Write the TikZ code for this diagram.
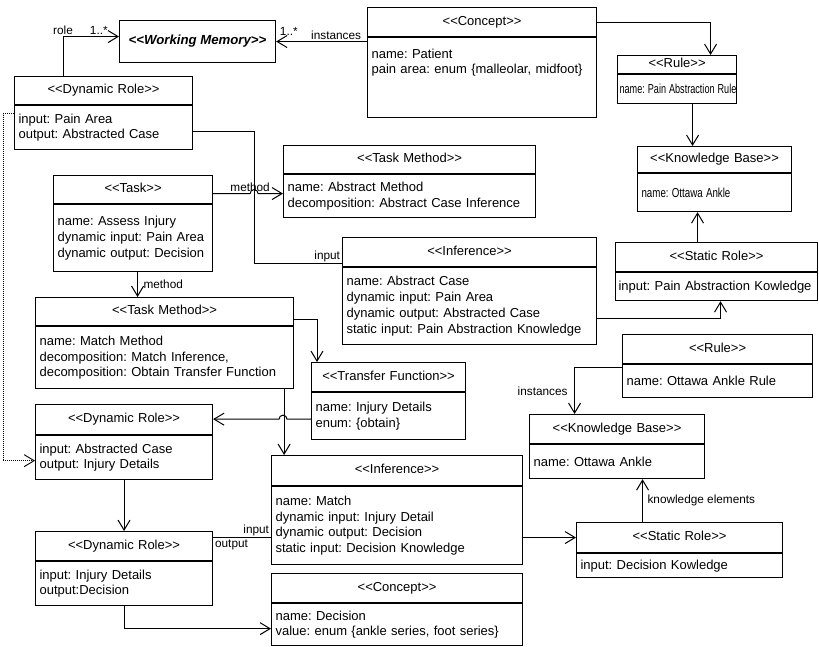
\documentclass[tikz,border=0pt]{standalone}
\usepackage{graphicx}
\usepackage{fontspec}
\newfontfamily\umlfont{Liberation Sans}
\frenchspacing
\usetikzlibrary{arrows.meta}

\begin{document}
\begin{tikzpicture}[x=1pt,y=1pt,
			cls/.style={draw,line width=1.1pt,anchor=north west,inner xsep=4pt,inner ysep=2pt,text width=#1,font=\umlfont\fontsize{13}{15.7}\selectfont},
			hd/.style={cls=#1,align=center,text height=9.5pt,text depth=2.8pt},
			bd/.style={cls=#1,align=left},
			assoc/.style={draw,line width=1pt,-{Straight Barb[length=10pt,width=12pt]}},
			plain/.style={draw,line width=1pt},
			dep/.style={assoc,densely dotted,line width=0.9pt},
			lbl/.style={font=\umlfont\fontsize{11.8}{13}\selectfont,inner sep=1.5pt}
			]
			\useasboundingbox (0,0) rectangle (819,-646);
			\node[draw,line width=1.1pt,anchor=north west,minimum width=156,minimum height=42,font=\umlfont\fontsize{13.2}{15.7}\selectfont\bfseries\itshape] (wm) at (119,-20) {<<Working Memory>>};
			\node[hd=170,minimum height=28] (dr1) at (14,-76) {<<Dynamic Role>>};
			\node[bd=170,minimum height=44] (dr1b) at (dr1.south west) {input: Pain Area\\output: Abstracted Case};
			\node[hd=221,minimum height=29] (cpt1) at (367,-7) {<<Concept>>};
			\node[bd=221,minimum height=80] (cpt1b) at (cpt1.south west) {name: Patient\\pain area: enum \{malleolar, midfoot\}\rule[-33pt]{0pt}{33pt}};
			\node[hd=111,minimum height=18] (rl1) at (617,-55) {<<Rule>>};
			\node[bd=115,minimum height=29,inner xsep=2pt] (rl1b) at (rl1.south west) {\scalebox{0.7}[1]{name: Pain Abstraction Rule}};
			\node[hd=146,minimum height=26] (kb1) at (637,-146) {<<Knowledge Base>>};
			\node[bd=146,minimum height=38] (kb1b) at (kb1.south west) {\scalebox{0.75}[1]{name: Ottawa Ankle}};
			\node[hd=194,minimum height=29] (sr1) at (615,-242) {<<Static Role>>};
			\node[bd=196,minimum height=28,inner xsep=3pt] (sr1b) at (sr1.south west) {input: Pain Abstraction Kowledge};
			\node[hd=244,minimum height=28] (tm1) at (283,-145) {<<Task Method>>};
			\node[bd=244,minimum height=43] (tm1b) at (tm1.south west) {name: Abstract Method\\decomposition: Abstract Case Inference};
			\node[hd=246,minimum height=29] (inf1) at (342,-237) {<<Inference>>};
			\node[bd=246,minimum height=77] (inf1b) at (inf1.south west) {name: Abstract Case\\dynamic input: Pain Area\\dynamic output: Abstracted Case\\static input: Pain Abstraction Knowledge};
			\node[hd=151,minimum height=28] (tsk) at (53,-175) {<<Task>>};
			\node[bd=151,minimum height=67] (tskb) at (tsk.south west) {name: Assess Injury\\dynamic input: Pain Area\\dynamic output: Decision};
			\node[hd=250,minimum height=28] (tm2) at (35,-297) {<<Task Method>>};
			\node[bd=250,minimum height=62] (tm2b) at (tm2.south west) {name: Match Method\\decomposition: Match Inference,\\decomposition: Obtain Transfer Function};
			\node[hd=146,minimum height=29] (tf) at (311,-362) {<<Transfer Function>>};
			\node[bd=146,minimum height=47] (tfb) at (tf.south west) {name: Injury Details\\enum: \{obtain\}};
			\node[hd=169,minimum height=30] (dr2) at (35,-404) {<<Dynamic Role>>};
			\node[bd=169,minimum height=44] (dr2b) at (dr2.south west) {input: Abstracted Case\\output: Injury Details};
			\node[hd=243,minimum height=30] (inf2) at (271,-455) {<<Inference>>};
			\node[bd=243,minimum height=78] (inf2b) at (inf2.south west) {name: Match\\dynamic input: Injury Detail\\dynamic output: Decision\\static input: Decision Knowledge};
			\node[hd=169,minimum height=29] (dr3) at (35,-531) {<<Dynamic Role>>};
			\node[bd=169,minimum height=44] (dr3b) at (dr3.south west) {input: Injury Details\\output:Decision};
			\node[hd=243,minimum height=29] (cpt2) at (271,-573) {<<Concept>>};
			\node[bd=243,minimum height=42] (cpt2b) at (cpt2.south west) {name: Decision\\value: enum \{ankle series, foot series\}};
			\node[hd=182,minimum height=29] (rl2) at (622,-334) {<<Rule>>};
			\node[bd=182,minimum height=33] (rl2b) at (rl2.south west) {name: Ottawa Ankle Rule};
			\node[hd=167,minimum height=29] (kb2) at (529,-414) {<<Knowledge Base>>};
			\node[bd=167,minimum height=34] (kb2b) at (kb2.south west) {name: Ottawa Ankle};
			\node[hd=198,minimum height=30] (sr2) at (576,-522) {<<Static Role>>};
			\node[bd=198,minimum height=24] (sr2b) at (sr2.south west) {input: Decision Kowledge};

			\draw[assoc] ([xshift=49pt]dr1.north west) |- ([yshift=5pt]wm.west) node[lbl,pos=0.5,above]{role} node[lbl,pos=0.82,above]{1..*};
			\draw[assoc] (cpt1b.west |- wm.east) -- (wm.east) node[lbl,pos=0.34,above]{instances} node[lbl,pos=0.86,above,yshift=4pt]{1..*};
			\draw[assoc] (cpt1.east) -| ([xshift=33.5pt]rl1.north);
			\draw[assoc] ([xshift=15.5pt]rl1b.south) -- ([xshift=-22pt]kb1.north);
			\draw[assoc] ([xshift=-19pt]sr1.north) -- ([xshift=-17pt]kb1b.south);
			\draw[assoc] ([yshift=-12.5pt]inf1b.east) -| ([xshift=4pt]sr1b.south);
			\draw[plain] ([yshift=-4pt]dr1b.east) -- ++(61,0) |- ([yshift=-11.5pt]inf1.west) node[lbl,above left]{input};
			\draw[assoc] ([yshift=-4pt]tsk.east) coordinate (m0) -- ++(37,0) node[lbl,above]{method} arc[start angle=180,end angle=0,radius=4pt] -- (m0 -| tm1b.west);
			\draw[assoc] ([xshift=4.5pt]tskb.south) coordinate (m1) -- (m1 |- tm2.north) node[lbl,midway,right=4pt]{method};
			\draw[assoc] ([yshift=-8pt]tm2.east) -| ([xshift=6pt]tf.north west);
			\draw[assoc] ([yshift=-3pt]tfb.west) coordinate (m2) -- ++(-24,0) arc[start angle=0,end angle=180,radius=4pt] -- (m2 -| dr2.east);
			\draw[assoc] ([xshift=-10pt]tm2b.south east) coordinate (m3) -- (m3 |- inf2.north);
			\draw[dep] ([yshift=14pt]dr1b.west) -- ++(-11,0) |- ([yshift=-3pt]dr2b.west);
			\draw[assoc] (dr2b.south) -- (dr3.north);
			\draw[plain] ([yshift=8.5pt]dr3.east) coordinate (m4) -- (m4 -| inf2b.west) node[lbl,above left]{input} (m4) node[lbl,below right]{output};
			\draw[assoc] (dr3b.south) |- ([yshift=-4pt]cpt2b.west);
			\draw[assoc] (inf2b.east |- sr2.west) -- (sr2.west);
			\draw[assoc] ([yshift=13.5pt]rl2b.west) -| ([xshift=-42.5pt]kb2.north) node[lbl,pos=0.75,left=5pt]{instances};
			\draw[assoc] ([xshift=-37pt]sr2.north) coordinate (m5) -- (m5 |- kb2b.south) node[lbl,midway,right=3pt]{knowledge elements};
		\end{tikzpicture}
\end{document}
